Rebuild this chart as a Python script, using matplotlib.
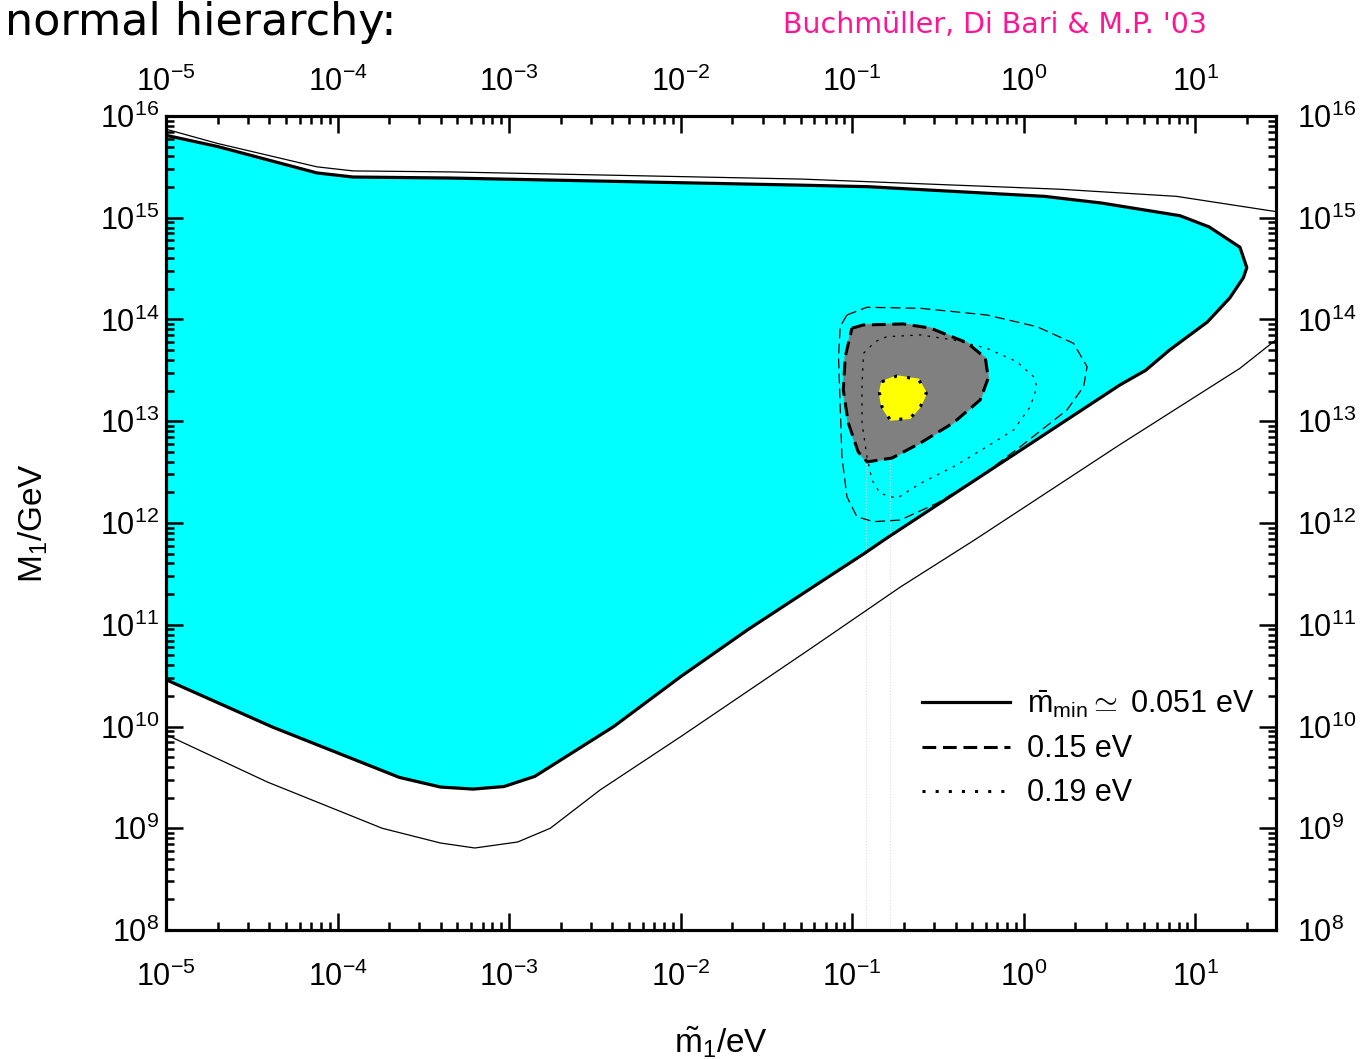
import numpy as np
import matplotlib
matplotlib.use("Agg")
import matplotlib.pyplot as plt
from matplotlib.ticker import FixedLocator, LogLocator, NullFormatter

plt.rcParams['font.family'] = ['Liberation Sans', 'DejaVu Sans']
plt.rcParams['mathtext.fontset'] = 'custom'
plt.rcParams['mathtext.rm'] = 'Liberation Sans'
plt.rcParams['mathtext.it'] = 'Liberation Sans'
plt.rcParams['axes.unicode_minus'] = False

# contours, log10(m1/eV) and log10(M1/GeV)
# m_min = 0.051 eV, thick boundary (cyan region)
thick_x = [-5.00, -4.70, -4.12, -3.91, -3.34, -1.30, -0.91, 0.12, 0.45, 0.91, 1.08, 1.26, 1.30, 1.28,
           1.20, 1.07, 0.85, 0.71, 0.56, -0.80, -0.93, -1.23, -1.61, -2.00, -2.39, -2.85, -3.03, -3.21,
           -3.40, -3.64, -4.38, -5.00]
thick_y = [15.81, 15.70, 15.44, 15.40, 15.39, 15.32, 15.305, 15.21, 15.145, 15.02, 14.91, 14.71, 14.51, 14.41,
           14.21, 13.975, 13.70, 13.50, 13.356, 11.85, 11.70, 11.37, 10.95, 10.49, 10.00, 9.51, 9.41, 9.385,
           9.405, 9.50, 9.995, 10.46]
# m_min = 0.051 eV, thin boundary
thin_up_x = [-5.00, -4.70, -4.12, -3.91, -3.34, -1.30, 0.21, 0.89, 1.47]
thin_up_y = [15.87, 15.73, 15.50, 15.46, 15.45, 15.38, 15.28, 15.21, 15.06]
thin_lo_x = [-5.00, -4.41, -3.74, -3.40, -3.20, -2.95, -2.76, -2.47, -2.00, -1.23, -0.72, -0.29, 0.56, 1.26, 1.47]
thin_lo_y = [9.92, 9.455, 9.00, 8.855, 8.806, 8.865, 9.00, 9.376, 9.90, 10.78, 11.37, 11.83, 12.77, 13.52, 13.80]

# 0.15 eV (gray region)
dash_x = [-1.002, -0.936, -0.703, -0.545, -0.329, -0.224, -0.207, -0.254, -0.411, -0.603, -0.767, -0.913,
          -0.965, -1.023, -1.052, -1.041, -1.002]
dash_y = [13.914, 13.946, 13.956, 13.916, 13.770, 13.622, 13.425, 13.209, 12.983, 12.786, 12.639, 12.600,
          12.698, 12.983, 13.307, 13.631, 13.914]
dash_thin_x = [-1.031, -0.914, -0.603, -0.215, 0.077, 0.290, 0.369, 0.349, 0.252, -0.020, -0.254, -0.506,
               -0.720, -0.876, -0.973, -1.031, -1.060, -1.070, -1.080, -1.070, -1.031]
dash_thin_y = [14.044, 14.120, 14.110, 14.044, 13.929, 13.766, 13.536, 13.340, 13.111, 12.750, 12.455, 12.194,
               12.029, 12.013, 12.062, 12.259, 12.652, 13.143, 13.634, 13.929, 14.044]

# 0.19 eV (yellow region)
dot_x = [-0.827, -0.739, -0.613, -0.568, -0.603, -0.662, -0.778, -0.827, -0.841, -0.827]
dot_y = [13.389, 13.445, 13.412, 13.275, 13.143, 13.029, 13.012, 13.143, 13.275, 13.389]
dot_thin_x = [-0.934, -0.866, -0.798, -0.603, -0.409, -0.215, -0.040, 0.057, 0.077, 0.038, -0.059, -0.215,
              -0.409, -0.603, -0.739, -0.837, -0.885, -0.914, -0.943, -0.943, -0.934]
dot_thin_y = [13.668, 13.782, 13.831, 13.848, 13.799, 13.717, 13.585, 13.438, 13.340, 13.143, 12.914, 12.750,
              12.553, 12.389, 12.242, 12.291, 12.423, 12.652, 12.980, 13.373, 13.668]

# faint vertical guides
guide_m = [0.121, 0.167]
guide_top = 10**12.62

x_decades = [1e-5, 1e-4, 1e-3, 1e-2, 1e-1, 1e0, 1e1]
y_decades = [10.0**k for k in range(8, 17)]

labels = [r'$\mathrm{\bar{m}_{min}}\simeq$ 0.051 eV', '0.15 eV', '0.19 eV']

def p(v):
    return 10**np.array(v)

fig = plt.figure(figsize=(13.72, 10.59), dpi=100)
ax = fig.add_axes([0.121, 0.1218, 0.809, 0.7687])

ax.fill(p(thick_x), p(thick_y), color='#00ffff', zorder=1)
ax.fill(p(dash_x), p(dash_y), color='#808080', zorder=2)
ax.fill(p(dot_x), p(dot_y), color='#ffff00', zorder=3)

for gm in guide_m:
    ax.plot([gm, gm], [1e8, guide_top], color='#dcdcdc', lw=0.8, ls=':', zorder=1.5)

l1, = ax.plot(p(thick_x + thick_x[:1]), p(thick_y + thick_y[:1]), color='black', lw=2.3, zorder=5)
ax.plot(p(thin_up_x), p(thin_up_y), color='black', lw=0.9, zorder=5)
ax.plot(p(thin_lo_x), p(thin_lo_y), color='black', lw=0.9, zorder=5)
l2, = ax.plot(p(dash_x), p(dash_y), color='black', lw=2.2, dashes=(4.5, 2.2), zorder=5)
ax.plot(p(dash_thin_x), p(dash_thin_y), color='black', lw=0.9, dashes=(8, 4), zorder=5)
l3, = ax.plot(p(dot_x), p(dot_y), color='black', lw=2.2, dashes=(1, 3.3), zorder=6)
ax.plot(p(dot_thin_x), p(dot_thin_y), color='black', lw=0.9, dashes=(2, 5), zorder=5)

xlim = (1e-5, 10**1.47)
ylim = (1e8, 1e16)
ax.set_xscale('log')
ax.set_yscale('log')
ax.set_xlim(xlim)
ax.set_ylim(ylim)

axt = ax.twiny()
axt.set_xscale('log')
axt.set_xlim(xlim)
axr = ax.twinx()
axr.set_yscale('log')
axr.set_ylim(ylim)


def style(a, ticks, pad):
    a.set_major_locator(FixedLocator(ticks))
    a.set_minor_locator(LogLocator(base=10, subs=np.arange(2, 10), numticks=20))
    a.set_minor_formatter(NullFormatter())


style(ax.xaxis, x_decades, 23)
style(ax.yaxis, y_decades, 5)
style(axt.xaxis, x_decades, 13)
style(axr.yaxis, y_decades, 15)

for a in (ax, axt, axr):
    a.tick_params(which='both', direction='in', labelsize=22, width=1.8)
    a.tick_params(which='major', length=12)
    a.tick_params(which='minor', length=6)
    for sp in a.spines.values():
        sp.set_linewidth(2.2)
ax.tick_params(top=False, right=False)
ax.tick_params(axis='x', which='major', pad=23)
ax.tick_params(axis='y', which='major', pad=5)
axt.tick_params(axis='x', which='major', pad=13)
axr.tick_params(axis='y', which='major', pad=15)

ax.set_xlabel(r'$\mathrm{\tilde{m}_1}$/eV', fontsize=24, labelpad=22)
ax.set_ylabel(r'M$_1$/GeV', fontsize=24, labelpad=36)

ax.legend([l1, l2, l3], labels, loc='upper left', bbox_to_anchor=(0.681, 0.297), frameon=False,
          fontsize=22, handlelength=2.9, handletextpad=0.55, labelspacing=0.46, borderpad=0, borderaxespad=0)

fig.text(0.004, 1 - 35 / 1059, 'normal hierarchy:', fontsize=32, family='DejaVu Sans', va='baseline')
fig.text(783 / 1372, 1 - 33 / 1059, "Buchmüller, Di Bari & M.P. '03", fontsize=20.5, family='DejaVu Sans',
         color='#ff1493', va='baseline')

fig.savefig('out.png', dpi=100)
